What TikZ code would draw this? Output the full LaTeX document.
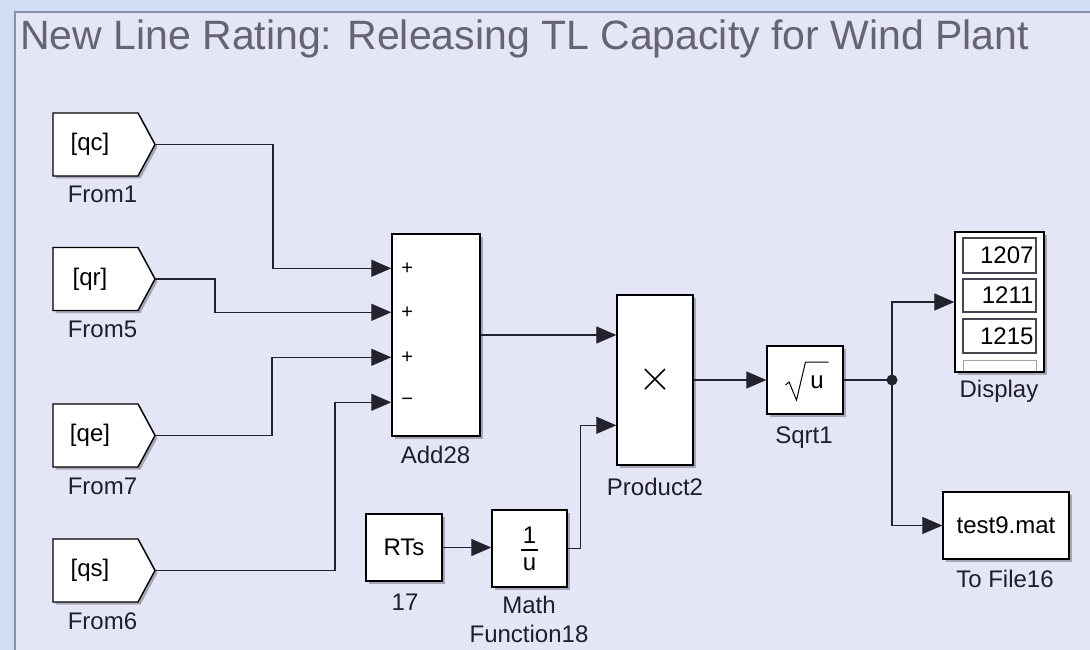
\documentclass[tikz,border=0pt]{standalone}
\usepackage{graphicx}
\usepackage{fontspec}
\setmainfont{Liberation Sans}
\usetikzlibrary{arrows.meta,shadows}
\definecolor{bg}{RGB}{229,229,248}
\definecolor{strip}{RGB}{208,221,245}
\definecolor{frameline}{RGB}{135,145,170}
\definecolor{titlec}{RGB}{100,100,115}
\definecolor{labelc}{RGB}{30,30,48}
\definecolor{shadowc}{RGB}{165,165,182}
\definecolor{wirec}{RGB}{35,35,45}
\definecolor{boxline}{RGB}{70,70,80}
\tikzset{
  blkline/.style={draw=black, line width=1.4pt},
  shd/.style={drop shadow={shadow xshift=2.5pt, shadow yshift=-2.5pt, fill=shadowc, opacity=1}},
  blk/.style={blkline, fill=white, inner sep=0pt, shd, font=\fontsize{24}{28}\selectfont},
  blktxt/.style={inner sep=0pt, font=\fontsize{24}{28}\selectfont},
  lbl/.style={inner sep=0pt, anchor=base, text=labelc, font=\fontsize{24}{28}\selectfont},
  sgn/.style={inner sep=0pt, font=\fontsize{20}{22}\selectfont},
  wire/.style={draw=wirec, line width=1.3pt},
  arr/.style={wire, -{Triangle[length=20pt,width=17pt]}},
  dbox/.style={draw=boxline, line width=1.1pt, fill=white, inner sep=0pt, minimum width=73pt, text width=68pt, align=right, font=\fontsize{24}{28}\selectfont},
  jdot/.style={circle, fill=wirec, inner sep=0pt, minimum size=11pt},
  title/.style={inner sep=0pt, text=titlec, font=\fontsize{41}{48}\selectfont}
}
\newcommand\fromblock[4]{%
  \begin{scope}[shift={(0,#2)}]
    \fill[shadowc] (55.5,-29) -- (140.5,-29) -- (157.5,2.5) -- (140.5,34) -- (55.5,34) -- cycle;
    \draw[blkline, fill=white] (53,-31.5) -- (138,-31.5) -- (155,0) -- (138,31.5) -- (53,31.5) -- cycle;
    \node[blktxt] (#1txt) at (90,0) {#3};
    \coordinate (#1) at (155,0);
    \node[lbl] (#1lbl) at (102.5,58.5) {#4};
  \end{scope}}
\begin{document}
\begin{tikzpicture}[x=1pt,y=-1pt]
\useasboundingbox (0,0) rectangle (1090,650);
\fill[strip] (0,0) rectangle (1090,650);
\fill[bg] (15,12) rectangle (1090,650);
\draw[frameline, line width=1.2pt] (15,650) -- (15,12) -- (1090,12);
\node[title, anchor=base west] (title) at (20,50) {New Line Rating: Releasing TL Capacity for Wind Plant};

% From blocks
\fromblock{f1}{144.5}{[qc]}{From1}
\fromblock{f5}{279}{[qr]}{From5}
\fromblock{f7}{435.5}{[qe]}{From7}
\fromblock{f6}{570.5}{[qs]}{From6}

% Add
\node[blk, minimum width=88pt, minimum height=202pt] (add) at (436,335) {};
\node[sgn] (s1) at ([xshift=16pt,yshift=-35pt]add.north west) {+};
\node[sgn] (s2) at ([xshift=16pt,yshift=-79pt]add.north west) {+};
\node[sgn] (s3) at ([xshift=16pt,yshift=-124pt]add.north west) {+};
\node[sgn] (s4) at ([xshift=16pt,yshift=-169pt]add.north west) {−};
\node[lbl] (addlbl) at (435.5,463) {Add28};

% Product
\node[blk, minimum width=76pt, minimum height=170pt] (prod) at (655,380) {\scalebox{1.75}{$\times$}};
\node[lbl] (prodlbl) at (655,495) {Product2};

% RTs constant
\node[blk, minimum width=76pt, minimum height=67pt] (rts) at (404,547.5) {RTs};
\node[lbl] (rtslbl) at (405,610) {17};

% Math function
\node[blk, minimum width=75pt, minimum height=77pt] (mf) at (529.5,548.5) {};
\begin{scope}[shift={(mf.center)}]
  \node[blktxt] (mfn) at (0,-13.5) {1};
  \draw[black, line width=1.1pt] (-8.5,1.5) -- (8.5,1.5);
  \node[blktxt] (mfd) at (0,15.5) {u};
\end{scope}
\node[lbl, align=center] (mflbl1) at (529,613) {Math};
\node[lbl, align=center] (mflbl2) at (529,642) {Function18};

% Sqrt
\node[blk, minimum width=76pt, minimum height=68pt] (sq) at (805,380) {};
\begin{scope}[shift={(sq.center)}]
  \draw[black, line width=1pt, line join=miter] (-19.5,5) -- (-16,2) -- (-8.5,20) -- (0.5,-18) -- (23.5,-18);
  \node[blktxt] (squ) at (12,2) {u};
\end{scope}
\node[lbl] (sqlbl) at (804,443) {Sqrt1};

% Display
\node[blk, minimum width=89pt, minimum height=140pt] (disp) at (999.5,302) {};
\node[dbox, minimum height=35pt] (d1) at (999.5,255.5) {1207};
\node[dbox, minimum height=33pt] (d2) at (999.5,295.5) {1211};
\node[dbox, minimum height=34pt] (d3) at (999.5,336) {1215};
\draw[boxline!50, line width=1pt] (963,371) -- (963,360) -- (1036,360) -- (1036,371);
\node[lbl] (displbl) at (999,397) {Display};

% To File
\node[blk, minimum width=126pt, minimum height=67pt] (tf) at (1006,525.5) {test9.mat};
\node[lbl] (tflbl) at (1005,587) {To File16};

% junction
\node[jdot] (j) at (892,380) {};

% wires
\draw[arr] (f1) -- ++(118,0) |- ([yshift=-35pt]add.north west);
\draw[arr] (f5) -- ++(60,0) |- ([yshift=-79pt]add.north west);
\draw[arr] (f7) -- ++(117,0) |- ([yshift=-124pt]add.north west);
\draw[arr] (f6) -- ++(180,0) |- ([yshift=-169pt]add.north west);
\draw[arr] (add.east) -- (add.east -| prod.west);
\draw[arr] (rts.east) -- (rts.east -| mf.west);
\draw[arr] (mf.east) -- ++(13,0) |- ([yshift=-131pt]prod.north west);
\draw[arr] (prod.east) -- (sq.west);
\draw[wire] (sq.east) -- (j.center);
\draw[arr] (j.center) |- (disp.west);
\draw[arr] (j.center) |- (tf.west);
\end{tikzpicture}
\end{document}
